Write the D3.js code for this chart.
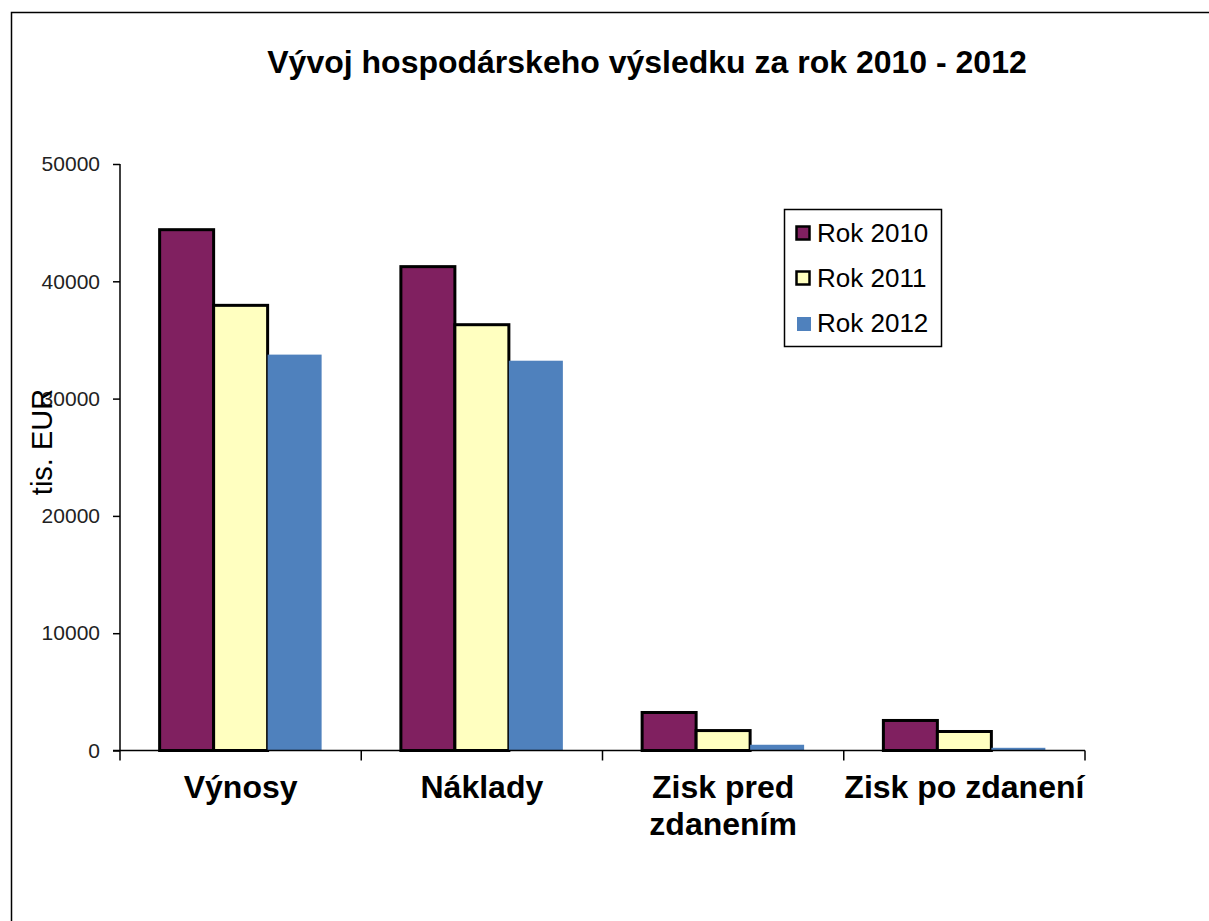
<!DOCTYPE html>
<html>
<head>
<meta charset="utf-8">
<script src="https://cdn.jsdelivr.net/npm/d3@7"></script>
<style>
  body { margin: 0; background: #fff; }
  text { font-family: "Liberation Sans", Arial, sans-serif; }
</style>
</head>
<body>
<div id="chart"></div>
<script>
var categories = ["Výnosy", "Náklady", "Zisk pred zdanením", "Zisk po zdanení"];
var categoryLines = [["Výnosy"], ["Náklady"], ["Zisk pred", "zdanením"], ["Zisk po zdanení"]];
var years = ["Rok 2010", "Rok 2011", "Rok 2012"];
var rok2010 = [44400, 41250, 3240, 2560];
var rok2011 = [37950, 36300, 1700, 1620];
var rok2012 = [33750, 33230, 490, 230];
var yTicks = [0, 10000, 20000, 30000, 40000, 50000];

var colors = ["#802060", "#ffffc0", "#4f81bd"];
var outlined = [true, true, false];

var dim = { width: 1209, height: 921 };
var svg = d3.select("#chart").append("svg")
    .attr("width", dim.width)
    .attr("height", dim.height);

// frame (only top and left edges show in the picture)
svg.append("path")
    .attr("d", "M11.5,921V12.5H1209")
    .attr("fill", "none")
    .attr("stroke", "#000")
    .attr("stroke-width", 1.5);

svg.append("text")
    .attr("x", 647)
    .attr("y", 73)
    .attr("text-anchor", "middle")
    .attr("font-size", 32)
    .attr("font-weight", "bold")
    .text("Vývoj hospodárskeho výsledku za rok 2010 - 2012");

var x = d3.scaleBand().domain(categories).range([120, 1085]).padding(0);
var xInner = d3.scaleBand().domain(years).range([0, x.bandwidth()])
    .paddingInner(0).paddingOuter(0.734);
var y = d3.scaleLinear().domain([0, 50000]).range([750.5, 164]);

var series = [rok2010, rok2011, rok2012];
var data = [];
series.forEach(function (vals, si) {
    vals.forEach(function (v, ci) {
        data.push({ cat: categories[ci], year: years[si], si: si, value: v });
    });
});

// bars
svg.append("g").selectAll("rect")
    .data(data).enter()
    .append("rect")
    .attr("x", d => x(d.cat) + xInner(d.year))
    .attr("y", d => y(d.value))
    .attr("width", xInner.bandwidth())
    .attr("height", d => y(0) - y(d.value))
    .attr("fill", d => colors[d.si])
    .attr("stroke", d => outlined[d.si] ? "#000" : "none")
    .attr("stroke-width", 3);

// y axis
var yAxis = svg.append("g")
    .attr("transform", "translate(120,0)")
    .call(d3.axisLeft(y).tickValues(yTicks).tickSize(7).tickPadding(13).tickFormat(d3.format("d")));
yAxis.select(".domain").attr("stroke", "#000").attr("stroke-width", 1.5).attr("d", "M0," + y(50000) + "V" + y(0));
yAxis.selectAll(".tick line").attr("stroke", "#000").attr("stroke-width", 1.5);
yAxis.selectAll(".tick text")
    .attr("font-family", "'Liberation Sans', Arial, sans-serif")
    .attr("font-size", 21)
    .attr("fill", "#222");

// x axis
var xAxisG = svg.append("g").attr("transform", "translate(0," + y(0) + ")");
xAxisG.append("line")
    .attr("x1", 113).attr("x2", 1085)
    .attr("stroke", "#000").attr("stroke-width", 1.5);
xAxisG.selectAll("line.tick")
    .data(categories.map(c => x(c)).concat([x.range()[1]]))
    .enter().append("line")
    .attr("class", "tick")
    .attr("x1", d => d).attr("x2", d => d)
    .attr("y1", 0).attr("y2", 10)
    .attr("stroke", "#000").attr("stroke-width", 1.5);

var labels = svg.append("g").selectAll("text")
    .data(categories).enter()
    .append("text")
    .attr("text-anchor", "middle")
    .attr("font-size", 32)
    .attr("font-weight", "bold")
    .attr("y", 798);
labels.each(function (c, i) {
    var t = d3.select(this);
    categoryLines[i].forEach(function (line, li) {
        t.append("tspan")
            .attr("x", x(c) + x.bandwidth() / 2)
            .attr("dy", li === 0 ? 0 : 37)
            .text(line);
    });
});

// y axis title
svg.append("text")
    .attr("transform", "translate(52,442) rotate(-90)")
    .attr("text-anchor", "middle")
    .attr("font-size", 29)
    .text("tis. EUR");

// legend
var legend = svg.append("g").attr("transform", "translate(784,209)");
legend.append("rect")
    .attr("x", 0.5).attr("y", 0.5)
    .attr("width", 157).attr("height", 137)
    .attr("fill", "#fff").attr("stroke", "#000").attr("stroke-width", 1.5);
var items = legend.selectAll("g.item")
    .data(years).enter()
    .append("g")
    .attr("class", "item")
    .attr("transform", (d, i) => "translate(0," + (24 + i * 45) + ")");
items.append("rect")
    .attr("x", (d, i) => outlined[i] ? 12.5 : 13)
    .attr("y", (d, i) => outlined[i] ? -6.5 : -6)
    .attr("width", (d, i) => outlined[i] ? 13 : 14)
    .attr("height", (d, i) => outlined[i] ? 13 : 14)
    .attr("fill", (d, i) => colors[i])
    .attr("stroke", (d, i) => outlined[i] ? "#000" : "none")
    .attr("stroke-width", 2.5);
items.append("text")
    .attr("x", 33)
    .attr("y", 9)
    .attr("font-size", 26)
    .text(d => d);
</script>
</body>
</html>
